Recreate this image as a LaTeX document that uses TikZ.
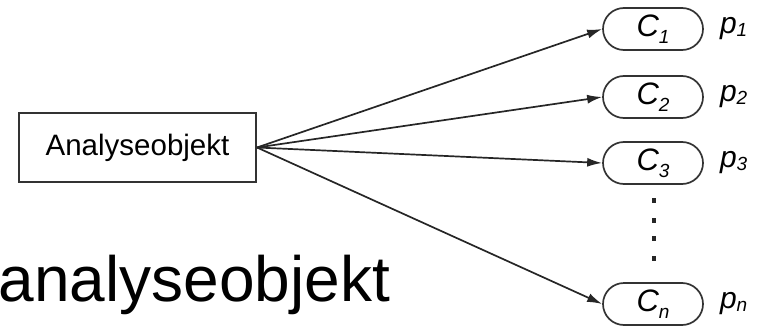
\documentclass[tikz,border=0pt]{standalone}
\usepackage{fontspec}
\setmainfont{Liberation Sans}
\usetikzlibrary{arrows.meta}
\begin{document}
\begin{tikzpicture}[x=1pt,y=1pt,
  objbox/.style={draw=black!80, line width=2pt, minimum width=237pt, minimum height=69pt, inner sep=0pt, font=\fontsize{29.5}{29.5}\selectfont},
  capsule/.style={draw=black!80, line width=1.7pt, rounded corners=21pt, minimum width=100pt, minimum height=42pt, inner sep=0pt},
  plabel/.style={anchor=west, inner sep=0pt},
  fan/.style={draw=black!85, line width=1.7pt, -{Latex[length=15pt,width=9pt]}},
  dotmark/.style={fill=black!85, draw=none, minimum width=4.5pt, minimum height=5pt, inner sep=0pt}
]
\newcommand{\cname}[1]{\fontsize{31}{31}\selectfont\itshape C\raisebox{-7pt}{\fontsize{19}{19}\selectfont #1}}
\newcommand{\pname}[1]{\fontsize{30}{30}\selectfont\itshape p\raisebox{-3pt}{\fontsize{19}{19}\selectfont #1}}
\useasboundingbox (0,0) rectangle (759,330);
\node[objbox] (obj) at (137.5,182.5) {Analyseobjekt};
\node[capsule] (c1) at (653,301) {\cname{1}};
\node[capsule] (c2) at (653,233) {\cname{2}};
\node[capsule] (c3) at (653,167) {\cname{3}};
\node[capsule] (cn) at (653,26) {\cname{n}};
\node[plabel] (p1) at ([xshift=16pt]c1.east) {\pname{1}};
\node[plabel] (p2) at ([xshift=16pt]c2.east) {\pname{2}};
\node[plabel] (p3) at ([xshift=16pt]c3.east) {\pname{3}};
\node[plabel] (pn) at ([xshift=16pt]cn.east) {\pname{n}};
\draw[fan] (obj.east) -- (c1.west);
\draw[fan] (obj.east) -- (c2.west);
\draw[fan] (obj.east) -- (c3.west);
\draw[fan] (obj.east) -- (cn.west);
\node[dotmark] (d1) at (654,130) {};
\node[dotmark] (d2) at (654,110) {};
\node[dotmark] (d3) at (654,92) {};
\node[dotmark] (d4) at (654,72) {};
\node[anchor=base west, inner sep=0pt, font=\fontsize{64}{64}\selectfont] (big) at (-1.5,29) {analyseobjekt};
\end{tikzpicture}
\end{document}
